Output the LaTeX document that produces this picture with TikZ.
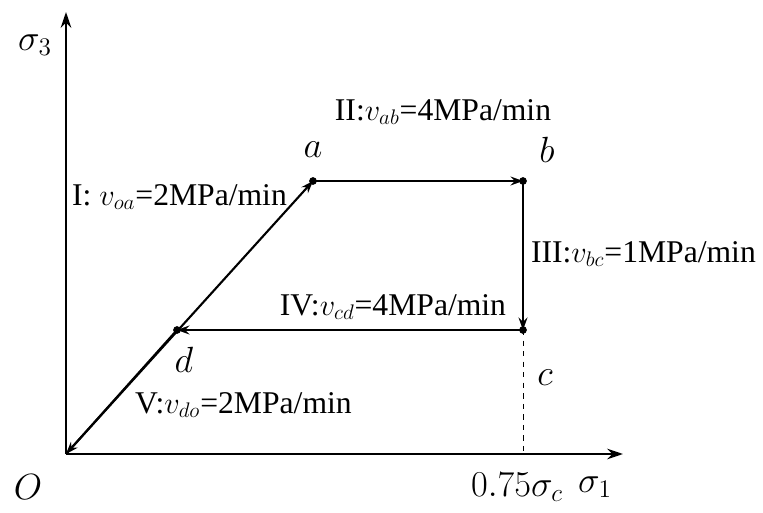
\documentclass[tikz,border=0pt]{standalone}
\usepackage{fontspec}
\setmainfont{Liberation Serif}
\usetikzlibrary{arrows.meta}
\tikzset{
  path/.style={line width=1.2pt, -{Stealth[length=7pt,width=5pt]}},
  rate/.style={font=\fontsize{18}{20}\selectfont, inner sep=1pt},
  pt/.style={font=\fontsize{22}{25}\selectfont, inner sep=0pt},
}
\begin{document}
\begin{tikzpicture}
    \useasboundingbox (-1.32,-1.16) rectangle (13.94,9.08);
    \coordinate (O) at (0,0);
    \coordinate (a) at (4.94,5.46);
    \coordinate (b) at (9.14,5.46);
    \coordinate (c) at (9.14,2.48);
    \coordinate (d) at (2.22,2.48);
    \coordinate (ytop) at (0,8.84);
    \coordinate (xend) at (11.14,0);
    \coordinate (cx) at (9.14,0);

    % Axes
    \draw[line width=1.2pt, -{Stealth[length=9pt,width=6pt]}] (O) -- (ytop);
    \draw[line width=1.2pt, -{Stealth[length=9pt,width=6pt]}] (O) -- (xend);
    \draw[dashed, line width=0.5pt] (c) -- (cx);
    \node[pt] (s3) at (-0.62,8.18) {$\sigma_3$};
    \node[pt] (o) at (-0.76,-0.66) {$O$};
    \node[pt] (sc) at (9.02,-0.66) {$0.75\sigma_c$};
    \node[pt] (s1) at (10.58,-0.66) {$\sigma_1$};

    % Loading path
    \draw[path] (O) -- (a);
    \draw[path] (a) -- (b);
    \draw[path] (b) -- (c);
    \draw[path] (c) -- (d);
    \draw[path] (d) -- (O);
    \foreach \p in {a,b,c,d}
        \fill (\p) circle (2.2pt);

    \node[pt] (la) at (4.94,6.08) {$a$};
    \node[pt] (lb) at (9.62,6.08) {$b$};
    \node[pt] (lc) at (9.58,1.52) {$c$};
    \node[pt] (ld) at (2.36,1.88) {$d$};

    % Rates
    \node[rate] (r1) at (2.27,5.14) {I: $v_{oa}$=2MPa/min};
    \node[rate] (r2) at (7.54,6.84) {II:$v_{ab}$=4MPa/min};
    \node[rate, anchor=west] (r3) at (9.26,4.0) {III:$v_{bc}$=1MPa/min};
    \node[rate] (r4) at (6.54,2.94) {IV:$v_{cd}$=4MPa/min};
    \node[rate, anchor=west] (r5) at (1.34,0.98) {V:$v_{do}$=2MPa/min};
\end{tikzpicture}
\end{document}
